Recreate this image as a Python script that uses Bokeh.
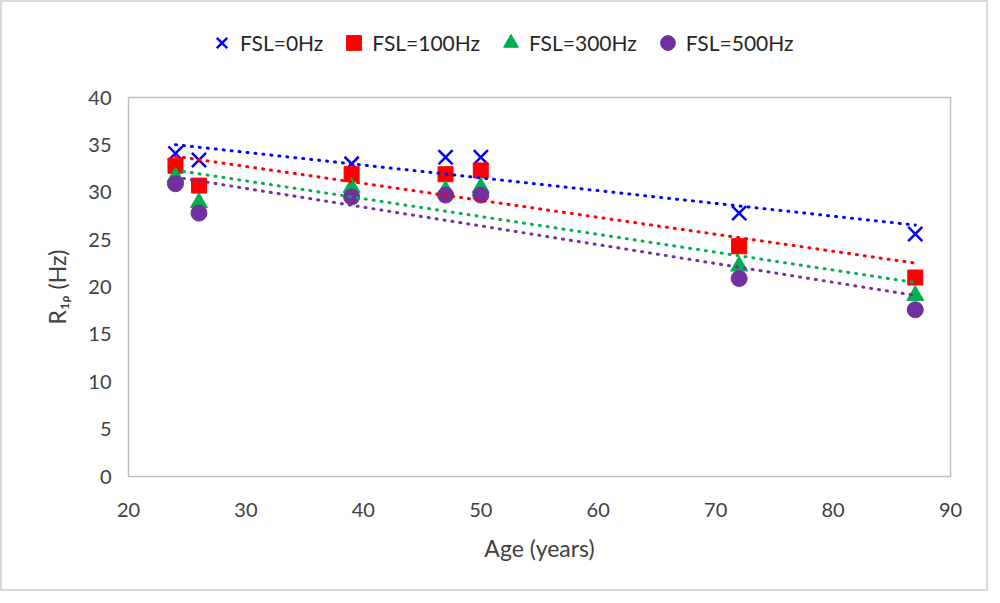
import numpy as np
from bokeh.plotting import figure
from bokeh.layouts import column
from bokeh.models import Legend, LegendItem, Range1d, FixedTicker
from bokeh.embed import file_html
from bokeh.resources import INLINE

ages = [24, 26, 39, 47, 50, 72, 87]
fsl0 = [34.1, 33.4, 33.0, 33.7, 33.7, 27.8, 25.6]
fsl100 = [32.8, 30.7, 31.9, 31.9, 32.3, 24.3, 21.0]
fsl300 = [31.6, 28.9, 30.5, 30.2, 30.5, 22.2, 19.1]
fsl500 = [30.9, 27.8, 29.5, 29.7, 29.7, 20.9, 17.6]

names = ["FSL=0Hz", "FSL=100Hz", "FSL=300Hz", "FSL=500Hz"]
series = [fsl0, fsl100, fsl300, fsl500]
colors = ["#0000FF", "#FF0000", "#00B050", "#7030A0"]
markers = ["x", "square", "triangle", "circle"]
sizes = [20, 15, 17, 16]

x_ticks = [20, 30, 40, 50, 60, 70, 80, 90]
y_ticks = [0, 5, 10, 15, 20, 25, 30, 35, 40]

FONT = "Lato"
TXT = "#404040"

# ---------------- main plot ----------------
p = figure(frame_width=822, frame_height=379, output_backend="svg", toolbar_location=None,
           x_range=Range1d(20, 90), y_range=Range1d(0, 40),
           min_border_left=126, min_border_right=36, min_border_top=20, min_border_bottom=113)
p.xgrid.visible = False
p.ygrid.visible = False
p.outline_line_color = "#bfbfbf"
p.outline_line_width = 1.5

for ax in (p.xaxis[0], p.yaxis[0]):
    ax.axis_line_color = None
    ax.major_tick_line_color = None
    ax.minor_tick_line_color = None
    ax.major_label_text_font = FONT
    ax.major_label_text_font_size = "20px"
    ax.major_label_text_color = TXT
    ax.axis_label_text_font = FONT
    ax.axis_label_text_font_size = "23px"
    ax.axis_label_text_font_style = "normal"
    ax.axis_label_text_color = TXT
p.xaxis[0].ticker = FixedTicker(ticks=x_ticks)
p.yaxis[0].ticker = FixedTicker(ticks=y_ticks)
p.xaxis[0].major_label_standoff = 20
p.yaxis[0].major_label_standoff = 11
p.xaxis[0].axis_label = "Age (years)"
p.yaxis[0].axis_label = "R\u2081\u1D68 (Hz)"
p.xaxis[0].axis_label_standoff = 14
p.yaxis[0].axis_label_standoff = 14

def marker_kw(c, m, s):
    return dict(marker=m, size=s, fill_color=c, line_color=c,
                line_width=2.5 if m == "x" else 1)

for ys, c, m, s in zip(series, colors, markers, sizes):
    p.scatter(ages, ys, **marker_kw(c, m, s))

# trendlines (least squares fits), drawn above markers
for ys, c in zip(series, colors):
    k, b = np.polyfit(ages, ys, 1)
    xs = [min(ages), max(ages)]
    p.line(xs, [k * xv + b for xv in xs], line_color=c, line_width=3,
           line_dash="1 7", line_cap="round")

# ---------------- legend strip ----------------
pl = figure(width=984, height=75, output_backend="svg", toolbar_location=None,
            x_range=Range1d(0, 1), y_range=Range1d(0, 1),
            min_border_left=0, min_border_right=0, min_border_top=0, min_border_bottom=0)
pl.axis.visible = False
pl.xgrid.visible = False
pl.ygrid.visible = False
pl.outline_line_color = None

items = []
for name, c, m, s in zip(names, colors, markers, sizes):
    # one off-range point so the legend has a glyph to draw
    r = pl.scatter([-10], [-10], **marker_kw(c, m, s))
    items.append(LegendItem(label=name, renderers=[r]))

legend = Legend(items=items, orientation="horizontal", location=(75, 16))
legend.border_line_color = None
legend.background_fill_alpha = 0
legend.label_text_font = FONT
legend.label_text_font_size = "21px"
legend.label_text_color = "#262626"
legend.glyph_width = 37
legend.glyph_height = 37
legend.label_standoff = 0
legend.spacing = 12
legend.padding = 4
legend.margin = 0
pl.add_layout(legend, "center")

layout = column(pl, p, spacing=0)
layout.styles = {"border": "2px solid #d9d9d9"}

open("out.html", "w").write(file_html(layout, INLINE))
